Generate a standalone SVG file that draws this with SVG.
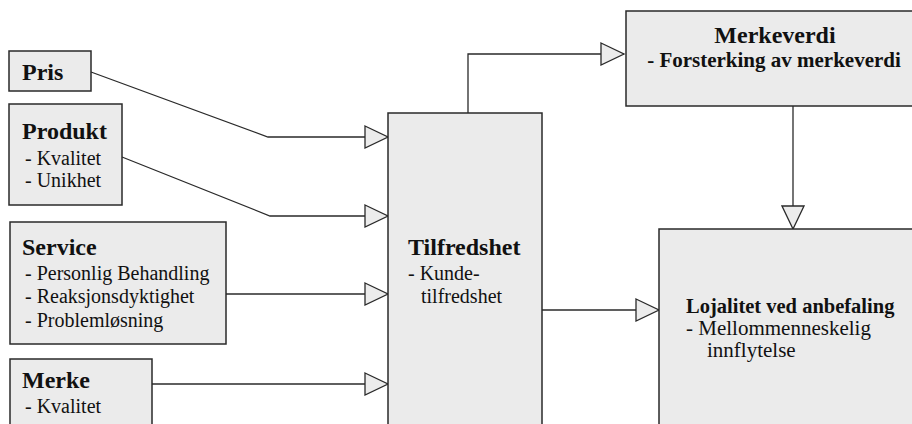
<svg xmlns="http://www.w3.org/2000/svg" width="912" height="424" viewBox="0 0 912 424">
<style>
.box{fill:#ebebeb;stroke:#2a2a2a;stroke-width:1.5}
.con{fill:none;stroke:#2a2a2a;stroke-width:1.3}
.h{font-family:"Liberation Serif","Times New Roman",serif;font-weight:bold;font-size:24px;fill:#111}
.hs{font-family:"Liberation Serif","Times New Roman",serif;font-weight:bold;font-size:20.5px;fill:#111}
.hm{font-family:"Liberation Serif","Times New Roman",serif;font-weight:bold;font-size:21px;fill:#111}
.t{font-family:"Liberation Serif","Times New Roman",serif;font-size:20px;fill:#111}
.tl{font-family:"Liberation Serif","Times New Roman",serif;font-size:21px;fill:#111}
</style>
<defs>
<marker id="arr" markerUnits="userSpaceOnUse" markerWidth="26" markerHeight="24" viewBox="0 0 26 24" refX="24" refY="12" orient="auto">
<path d="M1,1 L24,12 L1,23 Z" fill="#ececec" stroke="#2a2a2a" stroke-width="1.3"/>
</marker>
</defs>
<rect width="912" height="424" fill="#ffffff"/>
<g id="connectors">
<polyline class="con" points="91,72 268,137 388,137" marker-end="url(#arr)"/>
<polyline class="con" points="122,157 270,216 388,216" marker-end="url(#arr)"/>
<polyline class="con" points="226,294 388,294" marker-end="url(#arr)"/>
<polyline class="con" points="152,384 388,384" marker-end="url(#arr)"/>
<polyline class="con" points="468,113 468,54 624,54" marker-end="url(#arr)"/>
<polyline class="con" points="793,106 793,229" marker-end="url(#arr)"/>
<polyline class="con" points="542,310 659,310" marker-end="url(#arr)"/>
</g>
<g id="pris">
<rect class="box" x="9" y="51" width="82" height="40"/>
<text class="h" x="22" y="80">Pris</text>
</g>
<g id="produkt">
<rect class="box" x="9" y="104" width="113" height="101"/>
<text class="h" x="22" y="139">Produkt</text>
<text class="t" x="25" y="165">- Kvalitet</text>
<text class="t" x="25" y="187">- Unikhet</text>
</g>
<g id="service">
<rect class="box" x="10" y="222" width="216" height="122"/>
<text class="h" x="22" y="255">Service</text>
<text class="t" x="25" y="280">- Personlig Behandling</text>
<text class="t" x="25" y="303">- Reaksjonsdyktighet</text>
<text class="t" x="25" y="327">- Problemløsning</text>
</g>
<g id="merke">
<rect class="box" x="10" y="359" width="142" height="80"/>
<text class="h" x="22" y="388">Merke</text>
<text class="t" x="25" y="413">- Kvalitet</text>
</g>
<g id="tilfredshet">
<rect class="box" x="388" y="113" width="154" height="330"/>
<text class="h" x="408" y="255">Tilfredshet</text>
<text class="t" x="408" y="280">- Kunde-</text>
<text class="t" x="421" y="303">tilfredshet</text>
</g>
<g id="merkeverdi">
<rect class="box" x="626" y="11" width="290" height="95"/>
<text class="h" x="775" y="43" text-anchor="middle">Merkeverdi</text>
<text class="hm" x="774" y="67" text-anchor="middle">- Forsterking av merkeverdi</text>
</g>
<g id="lojalitet">
<rect class="box" x="659" y="229" width="260" height="210"/>
<text class="hs" x="686" y="313">Lojalitet ved anbefaling</text>
<text class="tl" x="686" y="335">-  Mellommenneskelig</text>
<text class="tl" x="707" y="357">innflytelse</text>
</g>
</svg>
